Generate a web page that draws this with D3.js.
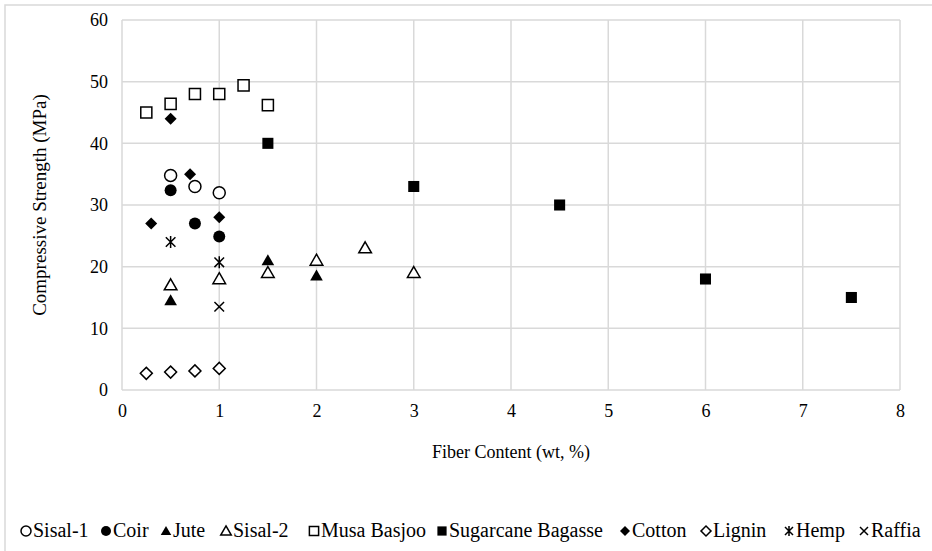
<!DOCTYPE html>
<html>
<head>
<meta charset="utf-8">
<script src="https://cdn.jsdelivr.net/npm/d3@7"></script>
<style>
  body { margin: 0; background: #fff; }
  .grid line { stroke: #d9d9d9; stroke-width: 1.5px; }
  .axis path.domain { display: none; }
  .axis line { display: none; }
</style>
</head>
<body>
<div id="chart"></div>
<script>
// data
var xTicks = [0, 1, 2, 3, 4, 5, 6, 7, 8];
var yTicks = [0, 10, 20, 30, 40, 50, 60];

var sisal1 = [[0.5, 34.8], [0.75, 33], [1, 32]];
var coir = [[0.5, 32.4], [0.75, 27], [1, 24.9]];
var jute = [[0.5, 14.5], [1.5, 21], [2, 18.5]];
var sisal2 = [[0.5, 17], [1, 18], [1.5, 19], [2, 21], [2.5, 23], [3, 19]];
var musa = [[0.25, 45], [0.5, 46.4], [0.75, 48], [1, 48], [1.25, 49.4], [1.5, 46.2]];
var bagasse = [[1.5, 40], [3, 33], [4.5, 30], [6, 18], [7.5, 15]];
var cotton = [[0.3, 27], [0.5, 44], [0.7, 35], [1, 28]];
var lignin = [[0.25, 2.7], [0.5, 2.9], [0.75, 3.1], [1, 3.5]];
var hemp = [[0.5, 24], [1, 20.7]];
var raffia = [[1, 13.5]];

var series = [
  { name: "Sisal-1", data: sisal1, shape: "circle", filled: false },
  { name: "Coir", data: coir, shape: "circle", filled: true },
  { name: "Jute", data: jute, shape: "triangle", filled: true },
  { name: "Sisal-2", data: sisal2, shape: "triangle", filled: false },
  { name: "Musa Basjoo", data: musa, shape: "square", filled: false },
  { name: "Sugarcane Bagasse", data: bagasse, shape: "square", filled: true },
  { name: "Cotton", data: cotton, shape: "diamond", filled: true },
  { name: "Lignin", data: lignin, shape: "diamond", filled: false },
  { name: "Hemp", data: hemp, shape: "star", filled: false },
  { name: "Raffia", data: raffia, shape: "x", filled: false }
];

var FONT = "'Liberation Serif', 'Times New Roman', serif";
var W = 932, H = 551;
var margin = { top: 20, right: 32, bottom: 161, left: 122 };
var width = W - margin.left - margin.right;
var height = H - margin.top - margin.bottom;

var x = d3.scaleLinear().domain([0, 8]).range([0, width]);
var y = d3.scaleLinear().domain([0, 60]).range([height, 0]);

var svg = d3.select("#chart").append("svg")
  .attr("width", W).attr("height", H);

// outer chart border
svg.append("rect")
  .attr("x", 5).attr("y", 5)
  .attr("width", W + 10).attr("height", H + 10)
  .attr("fill", "none")
  .attr("stroke", "#d9d9d9")
  .attr("stroke-width", 1.5);

var g = svg.append("g")
  .attr("transform", "translate(" + margin.left + "," + margin.top + ")");

// gridlines
g.append("g").attr("class", "grid")
  .selectAll("line").data(xTicks).enter().append("line")
  .attr("x1", d => x(d)).attr("x2", d => x(d))
  .attr("y1", 0).attr("y2", height);
g.append("g").attr("class", "grid")
  .selectAll("line").data(yTicks).enter().append("line")
  .attr("y1", d => y(d)).attr("y2", d => y(d))
  .attr("x1", 0).attr("x2", width);

// axes (labels only)
g.append("g").attr("class", "axis")
  .attr("transform", "translate(0," + height + ")")
  .call(d3.axisBottom(x).tickValues(xTicks).tickSize(0).tickPadding(14))
  .selectAll("text")
  .style("font-family", FONT).style("font-size", "18px").style("fill", "#000");
g.append("g").attr("class", "axis")
  .call(d3.axisLeft(y).tickValues(yTicks).tickSize(0).tickPadding(14))
  .selectAll("text")
  .style("font-family", FONT).style("font-size", "18px").style("fill", "#000");

// axis titles
svg.append("text")
  .attr("x", margin.left + width / 2).attr("y", 458)
  .attr("text-anchor", "middle")
  .style("font-family", FONT).style("font-size", "18px")
  .text("Fiber Content (wt, %)");
svg.append("text")
  .attr("transform", "translate(46," + (margin.top + height / 2) + ") rotate(-90)")
  .attr("text-anchor", "middle")
  .style("font-family", FONT).style("font-size", "19px")
  .text("Compressive Strength (MPa)");

// marker drawing
function drawMarker(sel, s, size) {
  var r = size / 2;
  if (s.shape == "x" || s.shape == "star") {
    var p = "M" + (-r * 0.8) + "," + (-r * 0.8) + "L" + (r * 0.8) + "," + (r * 0.8) +
            "M" + (-r * 0.8) + "," + (r * 0.8) + "L" + (r * 0.8) + "," + (-r * 0.8);
    if (s.shape == "star") p += "M0," + (-r) + "L0," + r;
    sel.append("path").attr("d", p)
      .attr("fill", "none").attr("stroke", "#000").attr("stroke-width", 1.5);
    return;
  }
  var sym = { circle: d3.symbolCircle, triangle: d3.symbolTriangle,
              square: d3.symbolSquare, diamond: d3.symbolSquare }[s.shape];
  var area = { circle: Math.PI * r * r, triangle: size * size * 0.48,
               square: size * size * 0.85, diamond: size * size * 0.5 }[s.shape];
  var path = sel.append("path")
    .attr("d", d3.symbol().type(sym).size(area)())
    .attr("fill", s.filled ? "#000" : "#fff")
    .attr("stroke", s.filled ? "none" : "#000")
    .attr("stroke-width", 1.5);
  if (s.shape == "diamond") path.attr("transform", "rotate(45)");
  if (s.shape == "triangle") path.attr("transform", "translate(0,1)");
}

series.forEach(function(s) {
  g.append("g").selectAll("g").data(s.data).enter().append("g")
    .attr("transform", d => "translate(" + x(d[0]) + "," + y(d[1]) + ")")
    .each(function() { drawMarker(d3.select(this), s, 12); });
});

// legend
var legX = [26, 106, 166, 226, 314, 442, 625, 706, 789, 864];
var leg = svg.append("g").attr("transform", "translate(0,537)");
series.forEach(function(s, i) {
  var item = leg.append("g").attr("transform", "translate(" + legX[i] + ",0)");
  drawMarker(item.append("g").attr("transform", "translate(0,-6)"), s, 10);
  item.append("text").attr("x", 7).attr("y", 0)
    .style("font-family", FONT).style("font-size", "20px")
    .text(s.name);
});
</script>
</body>
</html>
